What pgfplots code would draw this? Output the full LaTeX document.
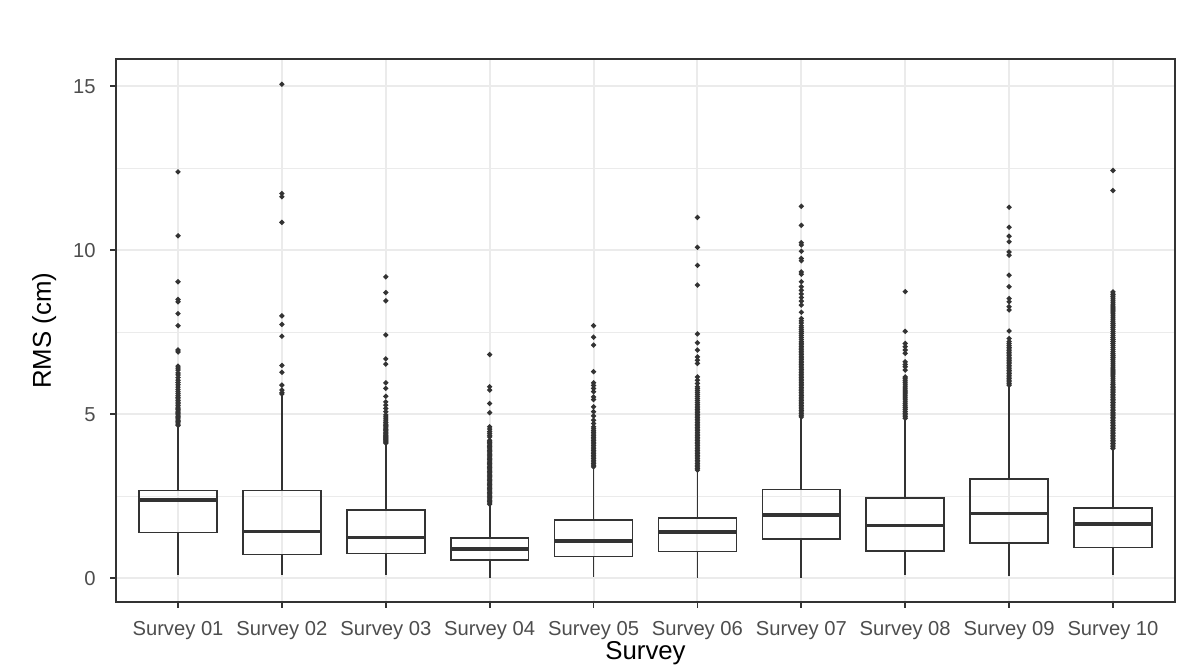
\documentclass[border=0pt]{standalone}
\usepackage{fontspec}
\setmainfont{Liberation Sans}
\usepackage{pgfplots}
\pgfplotsset{compat=1.18}
\usepgfplotslibrary{statistics}
\definecolor{g20}{HTML}{333333}
\definecolor{g30}{HTML}{4D4D4D}
\definecolor{g92}{HTML}{EBEBEB}
\pgfplotsset{sbox/.style={draw=g20, line width=0.85pt, mark=*, mark size=0.8pt,
  mark options={draw=none, fill=g20},
  boxplot/draw direction=y,
  boxplot/box extend=0.75, boxplot/whisker extend=0,
  boxplot/every median/.style={line width=1.7pt}}}
\begin{document}
\begin{tikzpicture}[x=1pt,y=1pt]
\useasboundingbox (0,0) rectangle (589,332.5);
\begin{axis}[at={(57.85pt,31.5pt)}, anchor=south west, scale only axis,
  width=529.8pt, height=271.35pt,
  xmin=0.4, xmax=10.6, ymin=-0.72, ymax=15.82,
  xtick={1,2,3,4,5,6,7,8,9,10},
  xticklabels={Survey 01,Survey 02,Survey 03,Survey 04,Survey 05,Survey 06,Survey 07,Survey 08,Survey 09,Survey 10},
  ytick={0,5,10,15}, minor ytick={2.5,7.5,12.5},
  /pgf/number format/assume math mode=true,
  xmajorgrids, ymajorgrids, yminorgrids,
  major grid style={g92, line width=1pt}, minor grid style={g92, line width=0.55pt},
  axis line style={g20, line width=0.9pt},
  tick style={g20, line width=0.9pt}, major tick length=2.85pt, minor tick length=0pt,
  tick align=outside, xtick pos=bottom, ytick pos=left,
  ticklabel style={font=\fontsize{10.1}{12}\selectfont, text=g30},
  xticklabel style={anchor=base, yshift=-13.65pt, inner sep=0pt},
  yticklabel style={anchor=east, xshift=-7pt, inner sep=0pt},
  xlabel={Survey}, ylabel={RMS (cm)},
  label style={font=\fontsize{12.9}{15}\selectfont},
  xlabel style={at={(axis description cs:0.5,-0.1056)}, anchor=base},
  ylabel style={at={(axis description cs:-0.0613,0.5)}, anchor=base},
]
% Survey 01
\addplot[sbox, boxplot prepared={draw position=1, lower whisker=0.11, lower quartile=1.40, median=2.39, upper quartile=2.68, upper whisker=4.62}]
 table[row sep=\\, y index=0] {y\\ 4.66\\ 4.70\\ 4.74\\ 4.78\\ 4.82\\ 4.86\\ 4.90\\ 4.94\\ 4.98\\ 5.02\\ 5.06\\ 5.10\\ 5.14\\ 5.18\\ 5.22\\ 5.27\\ 5.32\\ 5.37\\ 5.42\\ 5.47\\ 5.52\\ 5.58\\ 5.64\\ 5.70\\ 5.76\\ 5.83\\ 5.90\\ 5.97\\ 6.04\\ 6.12\\ 6.20\\ 6.26\\ 6.35\\ 6.41\\ 6.47\\ 6.90\\ 6.96\\ 7.70\\ 8.07\\ 8.43\\ 8.50\\ 9.04\\ 10.44\\ 12.39\\};
% Survey 02
\addplot[sbox, boxplot prepared={draw position=2, lower whisker=0.11, lower quartile=0.73, median=1.43, upper quartile=2.68, upper whisker=5.59}]
 table[row sep=\\, y index=0] {y\\ 5.62\\ 5.66\\ 5.74\\ 5.89\\ 6.28\\ 6.49\\ 7.38\\ 7.74\\ 8.00\\ 10.85\\ 11.63\\ 11.73\\ 15.06\\};
% Survey 03
\addplot[sbox, boxplot prepared={draw position=3, lower whisker=0.11, lower quartile=0.76, median=1.24, upper quartile=2.09, upper whisker=4.09}]
 table[row sep=\\, y index=0] {y\\ 4.12\\ 4.15\\ 4.18\\ 4.21\\ 4.24\\ 4.27\\ 4.30\\ 4.33\\ 4.36\\ 4.40\\ 4.43\\ 4.46\\ 4.50\\ 4.54\\ 4.58\\ 4.62\\ 4.66\\ 4.70\\ 4.75\\ 4.80\\ 4.86\\ 4.92\\ 4.98\\ 5.08\\ 5.18\\ 5.28\\ 5.38\\ 5.55\\ 5.79\\ 5.96\\ 6.53\\ 6.69\\ 7.42\\ 8.46\\ 8.71\\ 9.19\\};
% Survey 04
\addplot[sbox, boxplot prepared={draw position=4, lower whisker=0.02, lower quartile=0.56, median=0.89, upper quartile=1.24, upper whisker=2.23}]
 table[row sep=\\, y index=0] {y\\ 2.26\\ 2.30\\ 2.34\\ 2.38\\ 2.42\\ 2.46\\ 2.50\\ 2.54\\ 2.58\\ 2.62\\ 2.66\\ 2.70\\ 2.74\\ 2.78\\ 2.82\\ 2.86\\ 2.90\\ 2.94\\ 2.98\\ 3.02\\ 3.06\\ 3.10\\ 3.14\\ 3.18\\ 3.22\\ 3.26\\ 3.30\\ 3.34\\ 3.38\\ 3.42\\ 3.46\\ 3.50\\ 3.54\\ 3.58\\ 3.62\\ 3.66\\ 3.70\\ 3.74\\ 3.78\\ 3.82\\ 3.86\\ 3.90\\ 3.94\\ 3.98\\ 4.02\\ 4.06\\ 4.10\\ 4.14\\ 4.18\\ 4.21\\ 4.31\\ 4.36\\ 4.42\\ 4.48\\ 4.55\\ 4.62\\ 5.05\\ 5.33\\ 5.74\\ 5.84\\ 6.82\\};
% Survey 05
\addplot[sbox, boxplot prepared={draw position=5, lower whisker=0.03, lower quartile=0.67, median=1.14, upper quartile=1.77, upper whisker=3.38}]
 table[row sep=\\, y index=0] {y\\ 3.40\\ 3.45\\ 3.50\\ 3.55\\ 3.60\\ 3.65\\ 3.70\\ 3.75\\ 3.80\\ 3.85\\ 3.90\\ 3.95\\ 4.00\\ 4.05\\ 4.10\\ 4.15\\ 4.20\\ 4.25\\ 4.30\\ 4.35\\ 4.40\\ 4.45\\ 4.50\\ 4.56\\ 4.62\\ 4.72\\ 4.82\\ 4.95\\ 5.08\\ 5.23\\ 5.45\\ 5.53\\ 5.69\\ 5.79\\ 5.88\\ 5.96\\ 6.30\\ 7.11\\ 7.35\\ 7.70\\};
% Survey 06
\addplot[sbox, boxplot prepared={draw position=6, lower whisker=0.02, lower quartile=0.82, median=1.41, upper quartile=1.83, upper whisker=3.28}]
 table[row sep=\\, y index=0] {y\\ 3.30\\ 3.35\\ 3.40\\ 3.45\\ 3.50\\ 3.55\\ 3.60\\ 3.65\\ 3.70\\ 3.75\\ 3.80\\ 3.85\\ 3.90\\ 3.95\\ 4.00\\ 4.05\\ 4.10\\ 4.15\\ 4.20\\ 4.25\\ 4.30\\ 4.35\\ 4.40\\ 4.45\\ 4.50\\ 4.55\\ 4.60\\ 4.65\\ 4.70\\ 4.75\\ 4.80\\ 4.85\\ 4.90\\ 4.95\\ 5.00\\ 5.05\\ 5.10\\ 5.15\\ 5.20\\ 5.25\\ 5.30\\ 5.36\\ 5.42\\ 5.48\\ 5.54\\ 5.60\\ 5.66\\ 5.72\\ 5.78\\ 5.84\\ 5.94\\ 6.04\\ 6.14\\ 6.55\\ 6.65\\ 6.75\\ 6.96\\ 7.18\\ 7.45\\ 8.94\\ 9.54\\ 10.09\\ 11.00\\};
% Survey 07
\addplot[sbox, boxplot prepared={draw position=7, lower whisker=0.02, lower quartile=1.21, median=1.93, upper quartile=2.71, upper whisker=4.90}]
 table[row sep=\\, y index=0] {y\\ 4.92\\ 4.97\\ 5.02\\ 5.07\\ 5.12\\ 5.17\\ 5.22\\ 5.27\\ 5.32\\ 5.37\\ 5.42\\ 5.47\\ 5.52\\ 5.57\\ 5.62\\ 5.67\\ 5.72\\ 5.77\\ 5.82\\ 5.87\\ 5.92\\ 5.97\\ 6.02\\ 6.07\\ 6.12\\ 6.17\\ 6.22\\ 6.27\\ 6.32\\ 6.37\\ 6.42\\ 6.47\\ 6.52\\ 6.57\\ 6.62\\ 6.67\\ 6.72\\ 6.77\\ 6.82\\ 6.87\\ 6.92\\ 6.97\\ 7.02\\ 7.07\\ 7.12\\ 7.17\\ 7.22\\ 7.28\\ 7.34\\ 7.40\\ 7.46\\ 7.52\\ 7.58\\ 7.64\\ 7.70\\ 7.78\\ 7.85\\ 7.92\\ 8.11\\ 8.33\\ 8.45\\ 8.56\\ 8.67\\ 8.78\\ 8.89\\ 9.04\\ 9.27\\ 9.34\\ 9.68\\ 9.75\\ 9.97\\ 10.16\\ 10.23\\ 10.76\\ 11.34\\};
% Survey 08
\addplot[sbox, boxplot prepared={draw position=8, lower whisker=0.09, lower quartile=0.83, median=1.61, upper quartile=2.46, upper whisker=4.86}]
 table[row sep=\\, y index=0] {y\\ 4.88\\ 4.93\\ 4.98\\ 5.03\\ 5.08\\ 5.14\\ 5.20\\ 5.26\\ 5.32\\ 5.38\\ 5.44\\ 5.50\\ 5.56\\ 5.62\\ 5.68\\ 5.74\\ 5.80\\ 5.86\\ 5.92\\ 5.98\\ 6.04\\ 6.10\\ 6.14\\ 6.35\\ 6.45\\ 6.52\\ 6.60\\ 6.86\\ 6.96\\ 7.06\\ 7.16\\ 7.53\\ 8.74\\};
% Survey 09
\addplot[sbox, boxplot prepared={draw position=9, lower whisker=0.06, lower quartile=1.07, median=1.97, upper quartile=3.02, upper whisker=5.88}]
 table[row sep=\\, y index=0] {y\\ 5.89\\ 5.94\\ 5.99\\ 6.04\\ 6.09\\ 6.14\\ 6.19\\ 6.24\\ 6.29\\ 6.34\\ 6.39\\ 6.44\\ 6.49\\ 6.54\\ 6.59\\ 6.64\\ 6.69\\ 6.74\\ 6.79\\ 6.84\\ 6.89\\ 6.94\\ 6.99\\ 7.04\\ 7.10\\ 7.16\\ 7.22\\ 7.31\\ 7.54\\ 8.18\\ 8.28\\ 8.43\\ 8.53\\ 8.89\\ 9.24\\ 9.85\\ 9.95\\ 10.26\\ 10.43\\ 10.70\\ 11.31\\};
% Survey 10
\addplot[sbox, boxplot prepared={draw position=10, lower whisker=0.09, lower quartile=0.94, median=1.66, upper quartile=2.14, upper whisker=3.94}]
 table[row sep=\\, y index=0] {y\\ 3.96\\ 4.01\\ 4.06\\ 4.11\\ 4.16\\ 4.21\\ 4.26\\ 4.31\\ 4.36\\ 4.41\\ 4.46\\ 4.51\\ 4.56\\ 4.61\\ 4.66\\ 4.71\\ 4.76\\ 4.81\\ 4.86\\ 4.91\\ 4.96\\ 5.01\\ 5.06\\ 5.11\\ 5.16\\ 5.21\\ 5.26\\ 5.31\\ 5.36\\ 5.41\\ 5.46\\ 5.51\\ 5.56\\ 5.61\\ 5.66\\ 5.71\\ 5.76\\ 5.81\\ 5.86\\ 5.91\\ 5.96\\ 6.02\\ 6.08\\ 6.14\\ 6.20\\ 6.26\\ 6.32\\ 6.38\\ 6.44\\ 6.50\\ 6.56\\ 6.62\\ 6.68\\ 6.74\\ 6.80\\ 6.86\\ 6.92\\ 6.98\\ 7.04\\ 7.10\\ 7.16\\ 7.22\\ 7.28\\ 7.34\\ 7.40\\ 7.46\\ 7.52\\ 7.58\\ 7.64\\ 7.70\\ 7.76\\ 7.82\\ 7.88\\ 7.94\\ 8.00\\ 8.06\\ 8.12\\ 8.18\\ 8.24\\ 8.30\\ 8.36\\ 8.42\\ 8.48\\ 8.54\\ 8.60\\ 8.66\\ 8.73\\ 11.82\\ 12.43\\};
\end{axis}
\end{tikzpicture}
\end{document}
